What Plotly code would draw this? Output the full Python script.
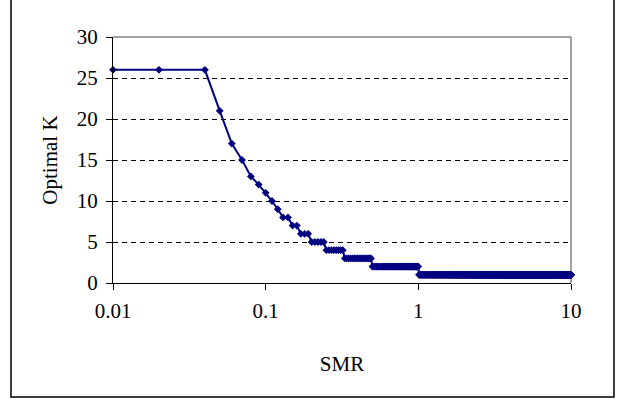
import plotly.graph_objects as go

# ---- data ----
smr_head = [0.01, 0.02]
smr_grid_start = 0.04      # then every 0.01 up to 10.00
smr_grid_stop = 10.00
smr_grid_step = 0.01

k_levels = [26, 21, 17, 15, 13, 12, 11, 10, 9, 8, 7, 6, 5, 4, 3, 2, 1]
k_counts = [3, 1, 1, 1, 1, 1, 1, 1, 1, 2, 2, 3, 5, 8, 17, 51, 900]

x_tickvals = [0.01, 0.1, 1, 10]
x_ticktext = ["0.01", "0.1", "1", "10"]
y_tickvals = [0, 5, 10, 15, 20, 25, 30]

x_title = "SMR"
y_title = "Optimal K"

# ---- build series ----
n_grid = int(round((smr_grid_stop - smr_grid_start) / smr_grid_step)) + 1
smr = smr_head + [round(smr_grid_start + i * smr_grid_step, 2) for i in range(n_grid)]
k = []
for lvl, c in zip(k_levels, k_counts):
    k += [lvl] * c

# ---- layout geometry (pixels) ----
W, H = 622, 399
PL, PR, PT, PB = 113, 571, 37, 283
pw, ph = PR - PL, PB - PT

def px_to_paper_x(px):
    return (px - PL) / pw

def px_to_paper_y(py):
    return (PB - py) / ph

FONT = "Liberation Serif, Times New Roman, serif"
NAVY = "#000080"
FS = 21

fig = go.Figure()
fig.add_trace(go.Scatter(
    x=smr, y=k, mode="lines+markers",
    line=dict(color=NAVY, width=2),
    marker=dict(symbol="diamond", size=6, color=NAVY),
    cliponaxis=False, showlegend=False,
))

fig.update_layout(
    width=W, height=H,
    margin=dict(l=PL, r=W - PR, t=PT, b=H - PB, pad=0),
    paper_bgcolor="white", plot_bgcolor="white",
    font=dict(family=FONT, size=FS, color="black"),
    xaxis=dict(
        type="log", range=[-2, 1],
        tickvals=x_tickvals, ticktext=x_ticktext,
        showgrid=False, zeroline=False,
        showline=True, linecolor="black", linewidth=1,
        ticks="outside", ticklen=6, tickcolor="black",
        tickfont=dict(size=FS),
        ticklabelstandoff=3,
        title=dict(text=x_title, font=dict(size=FS), standoff=34),
    ),
    yaxis=dict(
        range=[0, 30], tickvals=y_tickvals,
        showgrid=True, gridcolor="black", gridwidth=1, griddash="5px,4px",
        zeroline=False,
        showline=True, linecolor="black", linewidth=1,
        ticks="outside", ticklen=6, tickcolor="black",
        tickfont=dict(size=FS),
        ticklabelstandoff=4,
        title=dict(text=y_title, font=dict(size=FS), standoff=13),
    ),
    shapes=[
        # plot-area border (top & right), gray
        dict(type="line", xref="paper", yref="paper", x0=0, x1=1, y0=1, y1=1,
             line=dict(color="#808080", width=1.5), layer="above"),
        dict(type="line", xref="paper", yref="paper", x0=1, x1=1, y0=0, y1=1,
             line=dict(color="#808080", width=1.5), layer="below"),
        # outer chart border
        dict(type="rect", xref="paper", yref="paper",
             x0=px_to_paper_x(11), x1=px_to_paper_x(614),
             y0=px_to_paper_y(397), y1=px_to_paper_y(-5),
             line=dict(color="black", width=1.5), layer="below"),
    ],
)

fig.write_html(
    "out.html",
    config={"displayModeBar": False, "staticPlot": True},
    post_script="document.body.style.margin='0';document.body.style.overflow='hidden';",
)
